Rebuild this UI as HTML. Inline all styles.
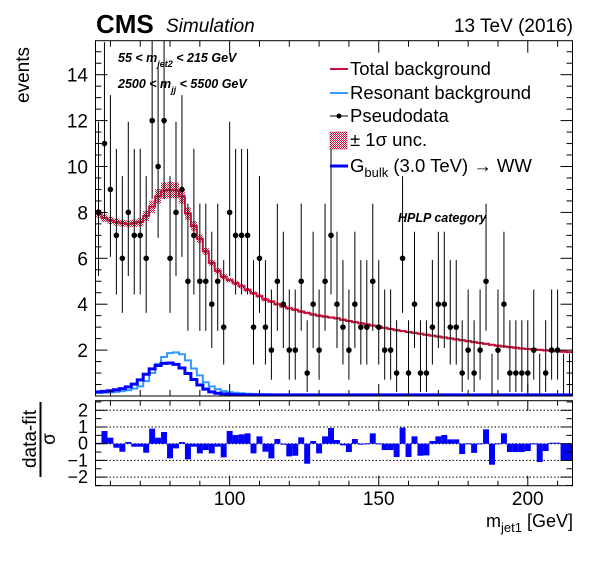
<!DOCTYPE html>
<html><head><meta charset="utf-8"><style>
html,body{margin:0;padding:0;background:#fff;}
svg{display:block;font-family:"Liberation Sans",sans-serif;}
</style></head><body>
<svg id="c" width="596" height="572" viewBox="0 0 596 572" xmlns="http://www.w3.org/2000/svg">
<defs>
<pattern id="hatch" width="2" height="2" patternUnits="userSpaceOnUse">
<rect width="2" height="2" fill="#fff"/><rect width="1" height="1" fill="#c8103c"/><rect x="1" y="1" width="1" height="1" fill="#c8103c"/>
</pattern>
<clipPath id="mainclip"><rect x="95.5" y="40.7" width="477" height="355.3"/></clipPath>
<clipPath id="lowclip"><rect x="95.5" y="400.7" width="477" height="85"/></clipPath>
</defs>
<g id="main"></g>
<g id="low"></g>
<text x="96" y="33" font-size="26" font-weight="bold">CMS</text>
<text x="166" y="32" font-size="19" font-style="italic">Simulation</text>
<text x="573" y="32" font-size="19" text-anchor="end">13 TeV (2016)</text>
<text transform="translate(29,103) rotate(-90)" font-size="19">events</text>
<g>
<text transform="translate(36,439) rotate(-90)" font-size="19" text-anchor="middle">data-fit</text>
<line x1="40.5" y1="402" x2="40.5" y2="477" stroke="#000" stroke-width="2"/>
<text transform="translate(55,439) rotate(-90)" font-size="19" text-anchor="middle">σ</text>
</g>
<text x="573" y="527" font-size="18" text-anchor="end">m<tspan font-size="13" dy="5">jet1</tspan><tspan dy="-5"> [GeV]</tspan></text>
<text x="118" y="62" font-size="12.5" font-weight="bold" font-style="italic">55 &lt; m<tspan font-size="9" dy="5">jet2</tspan><tspan dy="-5"> &lt; 215 GeV</tspan></text>
<text x="118" y="88" font-size="12.5" font-weight="bold" font-style="italic">2500 &lt; m<tspan font-size="9" dy="5">jj</tspan><tspan dy="-5"> &lt; 5500 GeV</tspan></text>
<text x="398" y="222" font-size="12.5" font-weight="bold" font-style="italic">HPLP category</text>
<g id="legend" font-size="18.5">
<g><line x1="330" y1="69" x2="348" y2="69" stroke="#c8103c" stroke-width="2"/><text x="350" y="75">Total background</text></g>
<g><line x1="330" y1="93" x2="348" y2="93" stroke="#3399ff" stroke-width="2"/><text x="350" y="99">Resonant background</text></g>
<g><line x1="330" y1="116" x2="348" y2="116" stroke="#000" stroke-width="1"/><circle cx="339" cy="116" r="2.5"/><text x="350" y="122">Pseudodata</text></g>
<g><rect x="330" y="132" width="17" height="17" fill="url(#hatch)" stroke="#c8103c" stroke-width="0.5"/><text x="350" y="146">± 1σ unc.</text></g>
<g><line x1="330" y1="166" x2="348" y2="166" stroke="#0000ff" stroke-width="3"/><text x="350" y="172">G<tspan font-size="13" dy="5">bulk</tspan><tspan dy="-5"> (3.0 TeV) → WW</tspan></text></g>
</g>
</svg>
<script>
const binCenters = [];
for (let v = 56; v <= 214; v += 2) binCenters.push(v);
const dataCounts = [8,11,9,7,6,8,7,7,6,12,10,12,6,8,9,5,7,5,5,4,5,3,8,7,7,7,3,6,3,2,5,4,2,2,5,1,4,2,5,7,4,
 3,2,4,3,3,5,3,2,2,1,6,1,4,1,1,3,4,4,3,3,1,2,1,2,5,0,2,4,1,1,1,1,2,0,1,2,2,0,0];
const totalBkg = [7.95,7.75,7.65,7.58,7.53,7.5,7.53,7.58,7.85,8.25,8.7,8.95,8.98,8.96,8.7,7.95,7.4,6.85,6.3,5.8,
 5.45,5.2,5.05,4.92,4.78,4.62,4.48,4.35,4.2,4.12,4.0,3.9,3.82,3.76,3.68,3.62,3.55,3.5,3.46,3.42,
 3.38,3.32,3.27,3.22,3.17,3.12,3.07,3.02,2.97,2.92,2.87,2.83,2.79,2.75,2.71,2.67,2.63,2.59,2.55,2.51,
 2.47,2.43,2.39,2.35,2.31,2.27,2.23,2.19,2.16,2.13,2.1,2.07,2.05,2.03,2.01,1.99,1.97,1.95,1.93,1.91];
const bkgUnc = [0.18,0.17,0.16,0.15,0.15,0.15,0.16,0.18,0.22,0.27,0.32,0.35,0.36,0.35,0.32,0.27,0.22,0.18,0.15,0.13,
 0.12,0.11,0.1,0.1,0.09,0.09,0.08,0.08,0.08,0.07,0.07,0.07,0.07,0.06,0.06,0.06,0.06,0.06,0.06,0.05,
 0.05,0.05,0.05,0.05,0.05,0.05,0.05,0.05,0.05,0.05,0.05,0.05,0.05,0.05,0.05,0.05,0.05,0.05,0.05,0.05,
 0.05,0.05,0.05,0.05,0.05,0.05,0.05,0.05,0.05,0.05,0.05,0.05,0.05,0.05,0.05,0.05,0.05,0.05,0.05,0.05];
const resBkg = [0.13,0.14,0.16,0.18,0.21,0.25,0.32,0.42,0.65,1.0,1.4,1.7,1.87,1.9,1.82,1.55,1.2,0.9,0.6,0.42,
 0.3,0.22,0.17,0.14,0.12,0.1,0.09,0.08,0.07,0.07,0.06,0.06,0.05,0.05,0.04,0.04,0.04,0.03,0.03,0.03,
 0.03,0.03,0.03,0.03,0.03,0.03,0.03,0.03,0.03,0.03,0.03,0.03,0.03,0.03,0.03,0.03,0.03,0.03,0.03,0.03,
 0.03,0.03,0.03,0.03,0.03,0.03,0.03,0.03,0.03,0.03,0.03,0.03,0.03,0.03,0.03,0.03,0.03,0.03,0.03,0.03];
const signal = [0.18,0.2,0.23,0.27,0.32,0.4,0.52,0.7,0.95,1.18,1.33,1.42,1.44,1.38,1.22,0.98,0.72,0.48,0.3,0.18,
 0.12,0.09,0.07,0.06,0.06,0.05,0.05,0.05,0.05,0.05,0.05,0.05,0.05,0.05,0.05,0.05,0.05,0.05,0.05,0.05,
 0.05,0.05,0.05,0.05,0.05,0.05,0.05,0.05,0.05,0.05,0.05,0.05,0.05,0.05,0.05,0.05,0.05,0.05,0.05,0.05,
 0.05,0.05,0.05,0.05,0.05,0.05,0.05,0.05,0.05,0.05,0.05,0.05,0.05,0.05,0.05,0.05,0.05,0.05,0.05,0.05];
const pulls = [0.05,0.76,0.36,-0.24,-0.48,0.1,-0.18,-0.18,-0.54,0.9,0.36,0.7,-0.88,-0.28,0.1,-0.94,-0.18,-0.58,-0.38,-0.58,
 -0.18,-0.82,0.76,0.52,0.56,0.62,-0.58,0.44,-0.48,-0.88,0.28,-0.04,-0.76,-0.72,0.38,-1.2,0.16,-0.58,0.44,0.94,
 0.22,-0.1,-0.5,0.28,-0.05,0.02,0.62,0.02,-0.38,-0.38,-0.8,0.96,-0.8,0.44,-0.72,-0.7,0.16,0.44,0.52,0.26,
 0.26,-0.62,0.02,-0.55,0.02,0.86,-1.26,0.02,0.62,-0.5,-0.5,-0.5,-0.44,0.02,-1.1,-0.44,0.06,0.06,-1.0,-1.0];
const poissonLow = [0,0.83,1.29,1.63,1.91,2.16,2.38,2.58,2.77,2.94,3.11,3.27,3.42];
const poissonUp = [1.84,2.30,2.64,2.92,3.16,3.38,3.58,3.77,3.95,4.11,4.27,4.42,4.56];
const yTicks = ["2","4","6","8","10","12","14"];
const xTicks = ["100","150","200"];
const ratioTicks = ["2","1","0","−1","−2"];

const NS = "http://www.w3.org/2000/svg";
const X0 = 55, X1 = 215, PX0 = 95.5, PX1 = 572.5;
const binW = 2;
function xs(v){ return PX0 + (v - X0) * (PX1 - PX0) / (X1 - X0); }
function ys(v){ return 396 - v * 22.95; }
function yr(v){ return 443.7 - v * 16.7; }
function mk(tag, attrs, parent){ const e = document.createElementNS(NS, tag); for (const k in attrs) e.setAttribute(k, attrs[k]); parent.appendChild(e); return e; }
function stepPath(vals, yf){
  let d = "";
  vals.forEach((v, i) => { const xl = xs(binCenters[i] - binW/2), xr = xs(binCenters[i] + binW/2), y = yf(v);
    d += (i === 0 ? "M" : "L") + xl + "," + y + "L" + xr + "," + y; });
  return d;
}
const main = document.getElementById("main");
const low = document.getElementById("low");
const gm = mk("g", {"clip-path": "url(#mainclip)"}, main);

totalBkg.forEach((v, i) => {
  const r = mk("rect", {x: xs(binCenters[i] - binW/2), y: ys(v + bkgUnc[i]), width: xs(binCenters[i] + binW/2) - xs(binCenters[i] - binW/2), height: ys(v - bkgUnc[i]) - ys(v + bkgUnc[i]), fill: "url(#hatch)"}, gm);
  
  
});
const pTot = mk("path", {d: stepPath(totalBkg, ys), fill: "none", stroke: "#c8103c", "stroke-width": 2}, gm);


const pRes = mk("path", {d: stepPath(resBkg, ys), fill: "none", stroke: "#3399ff", "stroke-width": 2}, gm);


const pSig = mk("path", {d: stepPath(signal, ys), fill: "none", stroke: "#0000ff", "stroke-width": 3}, gm);



dataCounts.forEach((n, i) => {
  const g = mk("g", {}, gm);
  
  
  const cx = xs(binCenters[i]);
  mk("line", {x1: cx, x2: cx, y1: ys(n + poissonUp[n]), y2: ys(n - poissonLow[n]), stroke: "#000", "stroke-width": 1}, g);
  if (n > 0) mk("circle", {cx: cx, cy: ys(n), r: 2.8, fill: "#000"}, g);
});

const fr = mk("rect", {x: PX0, y: 40.7, width: PX1 - PX0, height: 396 - 40.7, fill: "none", stroke: "#000", "stroke-width": 1}, main);


for (let v = 0.5; v < 15.5; v += 0.5) {
  const maj = Math.abs(v % 2) < 1e-6; const L = maj ? 12 : 6;
  mk("line", {x1: PX0, x2: PX0 + L, y1: ys(v), y2: ys(v), stroke: "#000"}, main);
  mk("line", {x1: PX1 - L, x2: PX1, y1: ys(v), y2: ys(v), stroke: "#000"}, main);
}
yTicks.forEach(t => {
  const e = mk("text", {x: 88, y: ys(+t) + 7, "font-size": 19, "text-anchor": "end"}, main);
  e.textContent = t;
  
  
});
for (let v = 60; v <= 210; v += 10) {
  const L = v % 50 === 0 ? 12 : 6;
  mk("line", {x1: xs(v), x2: xs(v), y1: 396, y2: 396 - L, stroke: "#000"}, main);
  mk("line", {x1: xs(v), x2: xs(v), y1: 40.7, y2: 40.7 + L, stroke: "#000"}, main);
}

const gl = mk("g", {"clip-path": "url(#lowclip)"}, low);
[2, 1, 0, -1, -2].forEach(v => mk("line", {x1: PX0, x2: PX1, y1: yr(v), y2: yr(v), stroke: "#000", "stroke-dasharray": "1.5,2"}, gl));
pulls.forEach((p, i) => {
  const xl = xs(binCenters[i] - binW/2), xr = xs(binCenters[i] + binW/2);
  const y0 = yr(0), y1 = yr(p);
  const r = mk("rect", {x: xl, y: Math.min(y0, y1), width: xr - xl, height: Math.max(1, Math.abs(y1 - y0)), fill: "#0000ff"}, gl);
  
  
});
const fr2 = mk("rect", {x: PX0, y: 400.7, width: PX1 - PX0, height: 85, fill: "none", stroke: "#000", "stroke-width": 1}, low);


for (let v = -2.5; v <= 2.5; v += 0.5) {
  const maj = Math.abs(v % 1) < 1e-6; const L = maj ? 12 : 6;
  mk("line", {x1: PX0, x2: PX0 + L, y1: yr(v), y2: yr(v), stroke: "#000"}, low);
  mk("line", {x1: PX1 - L, x2: PX1, y1: yr(v), y2: yr(v), stroke: "#000"}, low);
}
ratioTicks.forEach((t, i) => {
  const v = 2 - i;
  const e = mk("text", {x: 88, y: yr(v) + 6, "font-size": 18, "text-anchor": "end"}, low);
  e.textContent = t;
  
  
});
for (let v = 60; v <= 210; v += 10) {
  const L = v % 50 === 0 ? 10 : 5;
  mk("line", {x1: xs(v), x2: xs(v), y1: 485.7, y2: 485.7 - L, stroke: "#000"}, low);
  mk("line", {x1: xs(v), x2: xs(v), y1: 400.7, y2: 400.7 + L, stroke: "#000"}, low);
}
xTicks.forEach(t => {
  const e = mk("text", {x: xs(+t), y: 505, "font-size": 19, "text-anchor": "middle"}, low);
  e.textContent = t;
  
  
});
</script>
</body></html>
